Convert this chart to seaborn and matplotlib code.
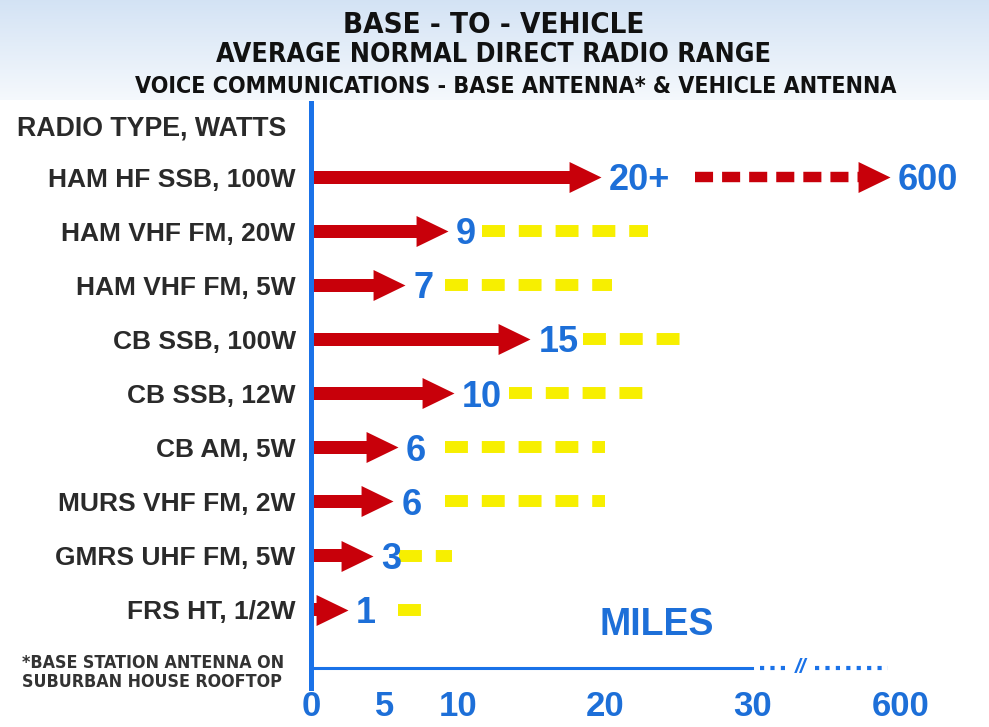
import os
import numpy as np
import pandas as pd
import matplotlib
matplotlib.use("Agg")
import matplotlib.pyplot as plt
from matplotlib.path import Path
from matplotlib import font_manager as fm
import seaborn as sns

# ---- data ----
radio_types = ["HAM HF SSB, 100W", "HAM VHF FM, 20W", "HAM VHF FM, 5W", "CB SSB, 100W",
               "CB SSB, 12W", "CB AM, 5W", "MURS VHF FM, 2W", "GMRS UHF FM, 5W", "FRS HT, 1/2W"]
range_labels = ["20+", "9", "7", "15", "10", "6", "6", "3", "1"]
# where each red arrow tip sits on the miles axis
arrow_tip = [19.7, 9.3, 6.4, 14.9, 9.7, 5.9, 5.6, 4.2, 2.5]
# yellow dashed "extended" range, miles
extra_start = [np.nan, 11.6, 9.1, 18.5, 13.5, 9.1, 9.1, 6.0, 5.9]
extra_end = [np.nan, 22.9, 20.5, 25.6, 23.2, 20.0, 20.0, 9.6, 7.9]
# HF skip: dashed red out to 600 miles
hf_skip_start = 26.1
hf_skip_tip = 562
hf_skip_label = "600"

tick_values = [0, 5, 10, 15, 20, 25, 30, 600]
tick_labels = ["0", "5", "10", "", "20", "", "30", "600"]
major_ticks = [0, 10, 20, 30, 600]

RED = "#c8000a"
BLUE = "#1d6fd8"
AXBLUE = "#1a72e8"
YELLOW = "#f7ef00"
GRAY = "#2a2a2a"

sns.set_theme(style="white")
plt.rcParams["font.family"] = ["Liberation Sans", "DejaVu Sans"]
plt.rcParams["lines.scale_dashes"] = False

# a condensed bold face for the headings, if one is installed
narrow_file = next((f.fname for f in fm.fontManager.ttflist
                    if os.path.basename(f.fname) in ("LiberationSansNarrow-Bold.ttf",
                                                      "DejaVuSansCondensed-Bold.ttf")), None)


def head_font(size):
    if narrow_file:
        return fm.FontProperties(fname=narrow_file, size=size)
    return fm.FontProperties(family=["Liberation Sans", "DejaVu Sans"], weight="bold", size=size)


# broken axis: linear to 30 miles, then squeezed out to 600
BREAK = 30
SQUEEZE = 10.07 / 570


def fwd(x):
    x = np.asarray(x, dtype=float)
    return np.where(x <= BREAK, x, BREAK + (x - BREAK) * SQUEEZE)


def inv(u):
    u = np.asarray(u, dtype=float)
    return np.where(u <= BREAK, u, BREAK + (u - BREAK) / SQUEEZE)


df = pd.DataFrame({"radio": radio_types, "row": np.arange(len(radio_types)),
                   "tip": arrow_tip, "label": range_labels})
head_miles = 2.0
df["shaft"] = df["tip"] - head_miles

W, H = 989, 727
fig = plt.figure(figsize=(W / 100, H / 100), dpi=100, facecolor="white")


def fit_width(txt, target_px):
    r = fig.canvas.get_renderer()
    w = txt.get_window_extent(r).width
    txt.set_fontsize(txt.get_fontsize() * target_px / w)
    return txt.get_fontsize()


# light blue band behind the title
bg = fig.add_axes([0, 1 - 100 / H, 1, 100 / H], zorder=-5)
top = np.array([0.83, 0.89, 0.96])
bot = np.array([0.96, 0.975, 0.99])
grad = np.linspace(0, 1, 100)[:, None, None] * (bot - top) + top
bg.imshow(np.repeat(grad, 2, axis=1), aspect="auto", extent=[0, 1, 0, 1])
bg.axis("off")

ax = fig.add_axes([311 / W, 1 - 688 / H, (W - 311) / W, (688 - 103) / H])
ax.set_facecolor("none")

# red arrows: shaft (bar) + head (custom triangle marker, tip at the point)
sns.barplot(data=df, x="shaft", y="row", orient="h", native_scale=True,
            color=RED, saturation=1, width=0.24, errorbar=None, linewidth=0, ax=ax)
head = Path([(-1, -0.485), (0, 0), (-1, 0.485), (-1, -0.485)],
            [Path.MOVETO, Path.LINETO, Path.LINETO, Path.CLOSEPOLY])
sns.scatterplot(data=df, x="tip", y="row", marker=head, s=2116, color=RED,
                linewidth=0, legend=False, ax=ax, zorder=4)

# extended ranges, yellow dashes
for i in range(len(radio_types)):
    if np.isnan(extra_start[i]):
        continue
    ax.plot([extra_start[i], extra_end[i]], [i, i], color=YELLOW, lw=8.6,
            dashes=(16.5, 10), dash_capstyle="butt", zorder=3)

# HF skip range
ax.plot([hf_skip_start, 440], [0, 0], color=RED, lw=7.5, dashes=(13, 6.5),
        dash_capstyle="butt", zorder=3)
ax.scatter([hf_skip_tip], [0], marker=head, s=2116, color=RED, linewidth=0, zorder=4)

# range numbers
for i, (t, lab) in enumerate(zip(arrow_tip, range_labels)):
    ax.annotate(lab, xy=(t, i), xytext=(6, -9.5), textcoords="offset points",
                ha="left", va="baseline", fontsize=26, fontweight="bold", color=BLUE, zorder=5)
ax.annotate(hf_skip_label, xy=(hf_skip_tip, 0), xytext=(5, -9.5), textcoords="offset points",
            ha="left", va="baseline", fontsize=26, fontweight="bold", color=BLUE)

ax.set_xscale("function", functions=(fwd, inv))
ax.set_xlim(0, 942)
ax.set_ylim(9.45, -1.37)

# y axis: radio types
ax.set_yticks(np.arange(len(radio_types)), radio_types)
ax.tick_params(axis="y", length=0, pad=11, labelsize=19, labelcolor=GRAY)
for t in ax.get_yticklabels():
    t.set_fontweight("bold")
ax.set_ylabel("")
ax.set_xlabel("")

# x axis: miles
axis_y = 9.08
ax.spines["top"].set_visible(False)
ax.spines["right"].set_visible(False)
ax.spines["left"].set_color(AXBLUE)
ax.spines["left"].set_linewidth(3.6)
ax.spines["bottom"].set_position(("data", axis_y))
ax.spines["bottom"].set_bounds(0, 30)
ax.spines["bottom"].set_color(AXBLUE)
ax.spines["bottom"].set_linewidth(2.2)
ax.set_xticks(tick_values, tick_labels)
ax.tick_params(axis="x", direction="inout", length=26, width=2, color=AXBLUE,
               labelcolor=BLUE, labelsize=25, pad=3)
for tk, v in zip(ax.xaxis.get_major_ticks(), tick_values):
    if v in major_ticks:
        tk.tick1line.set_markeredgewidth(6.5)
    else:
        tk.tick1line.set_markeredgewidth(2)
        tk.tick1line.set_markersize(23)
for t in ax.get_xticklabels():
    t.set_fontweight("bold")

# break between 30 and 600
ax.plot([61, 176], [axis_y, axis_y], color=AXBLUE, lw=3, dashes=(3, 4.5),
        dash_capstyle="butt", clip_on=False)
ax.plot([272, 553], [axis_y, axis_y], color=AXBLUE, lw=3, dashes=(3, 4.5),
        dash_capstyle="butt", clip_on=False)
ax.text(218, axis_y, "//", color=AXBLUE, fontsize=15, fontweight="bold",
        style="italic", ha="center", va="center")

# titles and notes (sized to the widths they take in the reference)
t1 = fig.text(494 / W, 1 - 33 / H, "BASE - TO - VEHICLE", fontproperties=head_font(24),
              ha="center", va="baseline", color="#111111")
fit_width(t1, 302)
t2 = fig.text(494 / W, 1 - 62 / H, "AVERAGE NORMAL DIRECT RADIO RANGE",
              fontproperties=head_font(22), ha="center", va="baseline", color="#111111")
fit_width(t2, 552)
t3 = fig.text(516 / W, 1 - 93 / H, "VOICE COMMUNICATIONS - BASE ANTENNA* & VEHICLE ANTENNA",
              fontproperties=head_font(18), ha="center", va="baseline", color="#111111")
fit_width(t3, 763)
fig.text(17 / W, 1 - 136 / H, "RADIO TYPE, WATTS", fontsize=19.3, fontweight="bold",
         ha="left", va="baseline", color=GRAY)
fig.text(657 / W, 1 - 635 / H, "MILES", fontsize=27, fontweight="bold",
         ha="center", va="baseline", color=BLUE)
n1 = fig.text(22 / W, 1 - 668 / H, "*BASE STATION ANTENNA ON", fontproperties=head_font(11),
              ha="left", va="baseline", color="#333333")
note_size = fit_width(n1, 261)
fig.text(22 / W, 1 - 687 / H, "SUBURBAN HOUSE ROOFTOP", fontproperties=head_font(note_size),
         ha="left", va="baseline", color="#333333")

fig.savefig("out.png", dpi=100, facecolor="white")
